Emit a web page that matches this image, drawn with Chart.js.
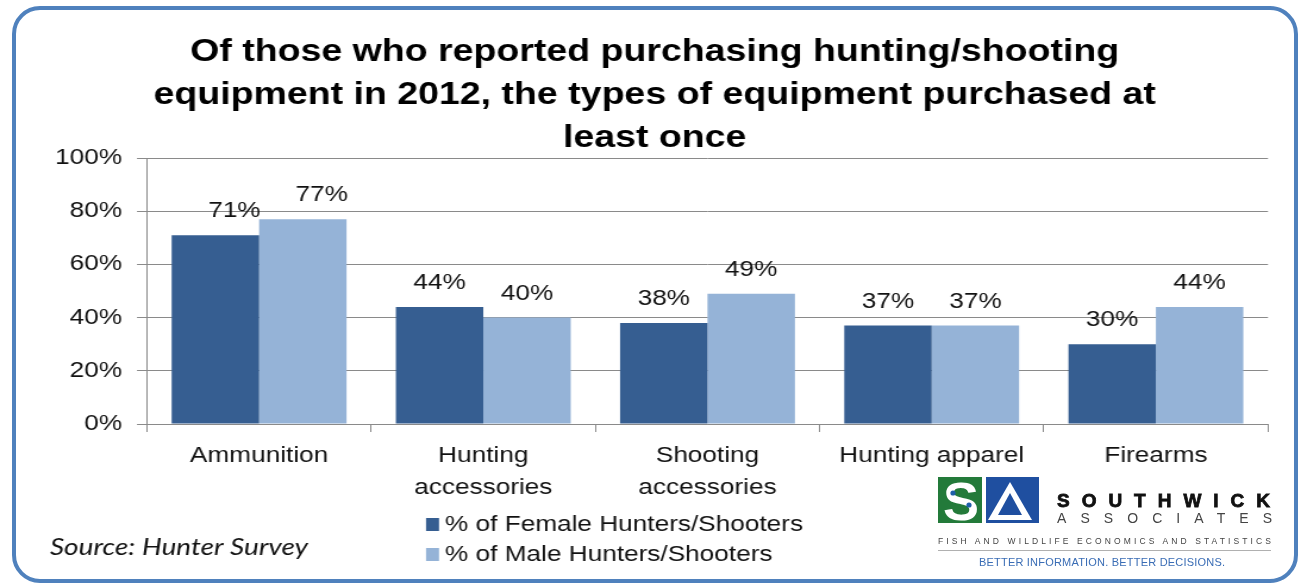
<!DOCTYPE html>
<html>
<head>
<meta charset="utf-8">
<script src="https://cdn.jsdelivr.net/npm/chart.js@4.4.1/dist/chart.umd.min.js"></script>
<style>
  html, body { margin: 0; padding: 0; background: #fff; }
  #wrap { position: relative; width: 1301px; height: 585px; overflow: hidden; background: #fff; }
  /* the chart is laid out on a narrower canvas and widened to the full page width */
  #chart { position: absolute; left: 0; top: 0; transform-origin: 0 0; }
  #frame {
    position: absolute; left: 12px; top: 6px; width: 1286px; height: 577px;
    box-sizing: border-box; border: 4px solid #4f81bd; border-radius: 28px;
    pointer-events: none;
  }
  #logo { position: absolute; left: 936px; top: 474px; }
</style>
</head>
<body>
<div id="wrap">
  <canvas id="chart" width="1093" height="585"></canvas>
  <div id="frame"></div>
  <svg id="logo" width="345" height="100" viewBox="0 0 345 100">
    <rect x="2" y="3" width="46" height="46" fill="#237a3a"/>
    <text x="25" y="46" text-anchor="middle" font-family="Liberation Sans, Arial" font-weight="bold" font-size="54" fill="#fff">S</text>
    <circle cx="17" cy="19" r="2.6" fill="#1f5fa8"/>
    <circle cx="33" cy="31" r="2.6" fill="#1f5fa8"/>
    <polygon points="46,3 103,3 103,49 46,49" fill="#1f4fa0"/>
    <polygon points="74,8 96,46 52,46" fill="#fff"/>
    <polygon points="74,19 86,41 62,41" fill="#1f4fa0"/>
    <rect x="46" y="3" width="4" height="46" fill="#fff"/>
    <text x="121" y="33" font-family="Liberation Sans, Arial" font-weight="bold" font-size="19" fill="#111" stroke="#111" stroke-width="0.8" textLength="213" lengthAdjust="spacing">SOUTHWICK</text>
    <text x="121" y="49" font-family="Liberation Sans, Arial" font-size="14" fill="#444" textLength="215" lengthAdjust="spacing">ASSOCIATES</text>
    <text x="2" y="70" font-family="Liberation Sans, Arial" font-size="8.5" fill="#444" textLength="333" lengthAdjust="spacing">FISH AND WILDLIFE ECONOMICS AND STATISTICS</text>
    <line x1="2" y1="76.5" x2="335" y2="76.5" stroke="#b0b0b0" stroke-width="1"/>
    <text x="43" y="92" font-family="Liberation Sans, Arial" font-size="11" fill="#3a6db5" textLength="246" lengthAdjust="spacing">BETTER INFORMATION. BETTER DECISIONS.</text>
  </svg>
</div>
<script>
// Equipment categories (multi-line labels as arrays)
const categories = [
  'Ammunition',
  ['Hunting', 'accessories'],
  ['Shooting', 'accessories'],
  'Hunting apparel',
  'Firearms'
];
// Share of purchasers who bought each type at least once (%)
const femaleValues = [71, 44, 38, 37, 30];
const maleValues = [77, 40, 49, 37, 44];
const seriesNames = ['% of Female Hunters/Shooters', '% of Male Hunters/Shooters'];
const yTicks = [0, 20, 40, 60, 80, 100];

const titleLines = [
  'Of those who reported purchasing hunting/shooting',
  'equipment in 2012, the types of equipment purchased at',
  'least once'
];

const FONT = "'Liberation Sans', Arial, sans-serif";

// Horizontal widening applied to the canvas
const PAGE_W = 1301;
const canvasEl = document.getElementById('chart');
const SX = PAGE_W / canvasEl.width;
canvasEl.style.transform = 'scaleX(' + SX + ')';
const px = v => v / SX;   // page pixels -> canvas units (horizontal)

// Value labels above each bar
const valueLabels = {
  id: 'valueLabels',
  afterDatasetsDraw(chart, args, opts) {
    const ctx = chart.ctx;
    ctx.save();
    ctx.font = '22px ' + FONT;
    ctx.fillStyle = '#111';
    ctx.textAlign = 'center';
    ctx.textBaseline = 'alphabetic';
    chart.data.datasets.forEach((ds, di) => {
      const meta = chart.getDatasetMeta(di);
      meta.data.forEach((bar, i) => {
        const nudge = (opts.nudge && opts.nudge[i]) || 0;
        ctx.fillText(ds.data[i] + '%', bar.x + nudge, bar.y - 18);
      });
    });
    ctx.restore();
  }
};

// Stacked legend and source note below the plot
const notes = {
  id: 'notes',
  afterDraw(chart) {
    const ctx = chart.ctx;
    ctx.save();
    chart.data.datasets.forEach((ds, i) => {
      const y = 531 + i * 30;
      ctx.fillStyle = ds.backgroundColor;
      ctx.fillRect(px(426), y - 13, px(13), 13);
      ctx.fillStyle = '#111';
      ctx.font = '22px ' + FONT;
      ctx.textAlign = 'left';
      ctx.textBaseline = 'alphabetic';
      ctx.fillText(ds.label, px(445), y);
    });
    ctx.font = "italic 23.5px Lato, 'Open Sans', sans-serif";
    ctx.fillStyle = '#111';
    ctx.fillText('Source: Hunter Survey', px(50), 555);
    ctx.restore();
  }
};

const gridColor = '#8a8a8a';
const plotLeft = px(147), plotRight = px(1268);
const padRight = canvasEl.width - plotRight;
const padLeft = padRight + 7;

new Chart(canvasEl, {
  type: 'bar',
  data: {
    labels: categories,
    datasets: [
      { label: seriesNames[0], data: femaleValues, backgroundColor: '#365e91' },
      { label: seriesNames[1], data: maleValues, backgroundColor: '#95b3d7' }
    ]
  },
  options: {
    responsive: false,
    animation: false,
    events: [],
    layout: { padding: { left: padLeft, right: padRight, top: 0, bottom: 81 } },
    datasets: { bar: { categoryPercentage: 0.78, barPercentage: 1.0 } },
    plugins: {
      legend: { display: false },
      tooltip: { enabled: false },
      title: {
        display: true,
        text: titleLines,
        color: '#000',
        font: { family: FONT, size: 31.5, weight: 'bold', lineHeight: 43 / 31.5 },
        padding: { top: 31, bottom: -2 }
      },
      valueLabels: { nudge: [px(19)] }
    },
    scales: {
      x: {
        grid: {
          display: true, drawOnChartArea: false, drawTicks: true,
          tickLength: 8, color: gridColor, offset: true
        },
        border: { display: true, color: gridColor, width: 1 },
        ticks: {
          color: '#111', padding: 8, maxRotation: 0, autoSkip: false,
          font: { family: FONT, size: 22, lineHeight: 1.45 }
        },
        afterFit(scale) { scale.height = 80; }
      },
      y: {
        min: 0, max: 100,
        afterBuildTicks(scale) { scale.ticks = yTicks.map(v => ({ value: v })); },
        grid: { color: gridColor, tickLength: px(10), drawTicks: true },
        border: { display: true, color: gridColor, width: 1 },
        ticks: {
          color: '#111', padding: px(25) - px(10),
          font: { family: FONT, size: 22 },
          callback: v => v + '%'
        },
        afterFit(scale) { scale.width = plotLeft - padLeft; }
      }
    }
  },
  plugins: [valueLabels, notes]
});
</script>
</body>
</html>
